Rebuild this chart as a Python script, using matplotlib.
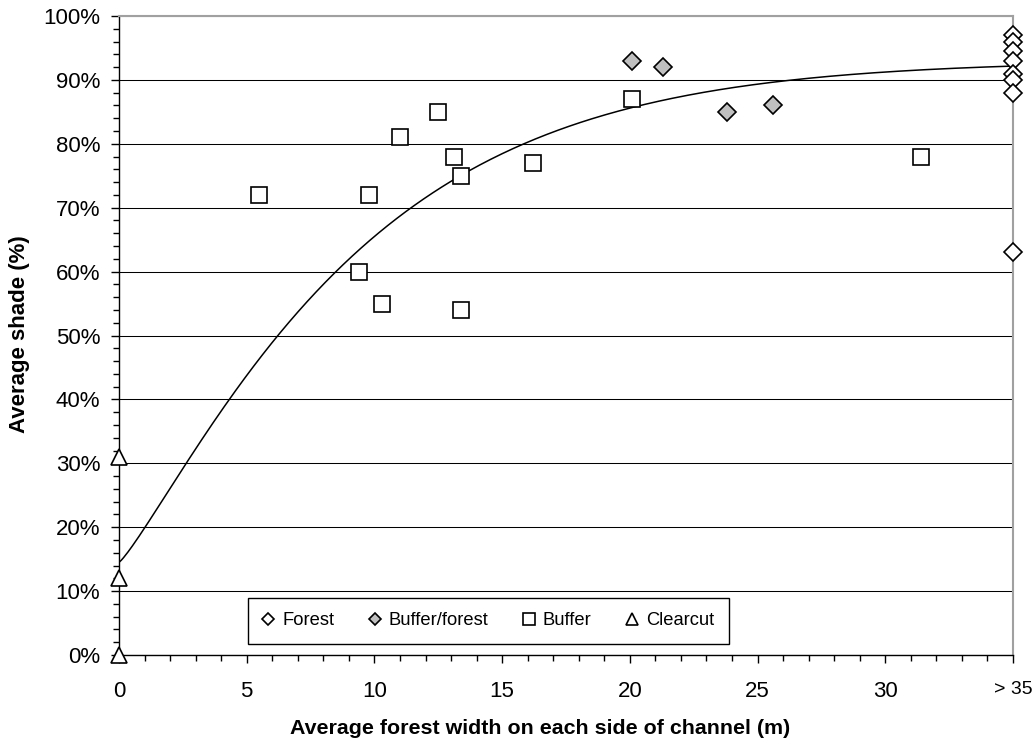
import numpy as np
import matplotlib
matplotlib.use("Agg")
import matplotlib.pyplot as plt
from matplotlib.ticker import MultipleLocator, FuncFormatter

plt.rcParams["font.family"] = ["Liberation Sans", "DejaVu Sans"]

# data (x = forest width in m, y = shade in %); "> 35" plotted at 35
forest_x = [35, 35, 35, 35, 35, 35, 35, 35]
forest_y = [97, 96, 94.5, 93, 91, 90, 88, 63]

buffer_forest_x = [20.1, 21.3, 23.8, 25.6]
buffer_forest_y = [93, 92, 85, 86]

buffer_x = [5.5, 9.4, 9.8, 10.3, 11.0, 12.5, 13.1, 13.4, 13.4, 16.2, 20.1, 31.4]
buffer_y = [72, 60, 72, 55, 81, 85, 78, 75, 54, 77, 87, 78]

clearcut_x = [0, 0, 0]
clearcut_y = [31, 12, 0]

x_ticks = [0, 5, 10, 15, 20, 25, 30, 35]
x_tick_labels = ["0", "5", "10", "15", "20", "25", "30", "> 35"]

# saturating trend curve, parameters
trend_top = 93.0
trend_drop = 78.5
trend_scale = 9.6
trend_shape = 1.17

fig = plt.figure(figsize=(10.32, 7.44), dpi=100)
ax = fig.add_axes([0.1153, 0.1196, 0.8663, 0.8589])

xs = np.linspace(0, 35, 400)
ax.plot(xs, trend_top - trend_drop * np.exp(-(xs / trend_scale) ** trend_shape),
        color="black", lw=1.1, zorder=3)

ax.plot(forest_x, forest_y, ls="none", marker="D", ms=8.8, mfc="white", mec="black",
        mew=1.2, label="Forest", clip_on=False, zorder=4)
ax.plot(buffer_forest_x, buffer_forest_y, ls="none", marker="D", ms=8.8, mfc="#c0c0c0",
        mec="black", mew=1.2, label="Buffer/forest", clip_on=False, zorder=4)
ax.plot(buffer_x, buffer_y, ls="none", marker="s", ms=12, mfc="white", mec="black",
        mew=1.2, label="Buffer", clip_on=False, zorder=4)
ax.plot(clearcut_x, clearcut_y, ls="none", marker="^", ms=12, mfc="white", mec="black",
        mew=1.2, label="Clearcut", clip_on=False, zorder=4)

ax.set_xlim(0, 35)
ax.set_ylim(0, 100)
ax.set_xticks(x_ticks)
ax.set_xticklabels(x_tick_labels)
ax.xaxis.set_minor_locator(MultipleLocator(1))
ax.yaxis.set_major_locator(MultipleLocator(10))
ax.yaxis.set_minor_locator(MultipleLocator(2))
ax.yaxis.set_major_formatter(FuncFormatter(lambda v, p: "%d%%" % v))
ax.tick_params(which="major", direction="out", length=5.5, width=1, labelsize=16)
ax.tick_params(which="minor", direction="out", length=4, width=1)
ax.tick_params(axis="x", which="major", pad=13)
ax.tick_params(axis="y", which="major", pad=8)
ax.get_xticklabels()[-1].set_fontsize(14)

ax.grid(axis="y", which="major", color="black", lw=0.75)
ax.set_axisbelow(True)
for s in ["top", "right"]:
    ax.spines[s].set_color("#a0a0a0")
    ax.spines[s].set_linewidth(1.5)
for s in ["left", "bottom"]:
    ax.spines[s].set_color("black")
    ax.spines[s].set_linewidth(1)

ax.set_xlabel("Average forest width on each side of channel (m)", fontsize=15.4,
              fontweight="bold")
ax.xaxis.set_label_coords(0.471, -0.1)
ax.set_ylabel("Average shade (%)", fontsize=16, fontweight="bold")
ax.yaxis.set_label_coords(-0.0996, 0.502)

leg = ax.legend(loc="lower left", bbox_to_anchor=(0.1443, 0.0172), ncol=4, fontsize=13.2,
                frameon=True, fancybox=False, edgecolor="black", framealpha=1,
                handlelength=0.6, handletextpad=0.47, columnspacing=1.9,
                borderpad=0.8, borderaxespad=0, markerscale=0.72)
leg.get_frame().set_linewidth(1)

fig.savefig("out.png", dpi=100)
